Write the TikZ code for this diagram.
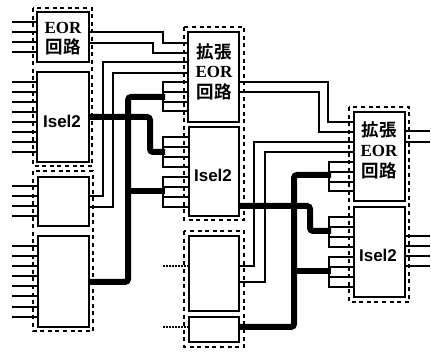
\documentclass[tikz,border=0pt]{standalone}
\usepackage{fontspec}
\setmainfont{Liberation Serif}
\newfontfamily\cjkf{Noto Sans CJK JP}[BoldFont={Noto Sans CJK JP Bold}]
\newfontfamily\sansf{Liberation Sans}
\begin{document}
\begin{tikzpicture}[x=1pt,y=-1pt,
  box/.style={draw=black,line width=2pt,fill=white,inner sep=0pt,outer sep=0pt},
  group/.style={draw=black,line width=1.8pt,dash pattern=on 4pt off 3.6pt},
  wire/.style={draw=black,line width=2.2pt},
  thick wire/.style={draw=black,line width=6pt,rounded corners=3pt},
  dotwire/.style={draw=black,line width=1.6pt,dash pattern=on 1.5pt off 1.5pt},
  cjklabel/.style={font=\cjkf\bfseries\fontsize{17.5}{19}\selectfont,inner sep=0pt},
  eorlabel/.style={font=\bfseries\fontsize{17}{19}\selectfont,inner sep=0pt},
  isellabel/.style={font=\sansf\bfseries\fontsize{17}{19}\selectfont,inner sep=0pt}]
\useasboundingbox[fill=white] (0,0) rectangle (431,352);

% boxes
\node[box,minimum width=52pt,minimum height=50pt] (eorA) at (63,37) {};
\node[box,minimum width=52pt,minimum height=90pt] (iselA) at (63,117) {};
\node[box,minimum width=51pt,minimum height=49pt] (plainA) at (63.5,201.5) {};
\node[box,minimum width=51pt,minimum height=91pt] (bigA) at (63.5,281.5) {};
\node[box,minimum width=51pt,minimum height=90pt] (eorB) at (213.5,77) {};
\node[box,minimum width=50pt,minimum height=89pt] (iselB) at (214,171.5) {};
\node[box,minimum width=50pt,minimum height=75pt] (plainB) at (214,273.5) {};
\node[box,minimum width=50pt,minimum height=25pt] (smallB) at (214,329.5) {};
\node[box,minimum width=51pt,minimum height=89pt] (eorC) at (379.5,156.5) {};
\node[box,minimum width=51pt,minimum height=90pt] (iselC) at (379.5,252) {};

% free ends and input stubs
\foreach \y in {22,32,42,52} \draw[wire] (12,\y) coordinate (e\y) -- (eorA.west |- e\y);
\foreach \y in {82,92,102,112,122,132,142,152} \draw[wire] (12,\y) coordinate (i\y) -- (iselA.west |- i\y);
\foreach \y in {186,196,206,216} \draw[wire] (12,\y) coordinate (p\y) -- (plainA.west |- p\y);
\foreach \y in {246,256,266,276,286,296,307,317} \draw[wire] (12,\y) coordinate (b\y) -- (bigA.west |- b\y);

% dotted inputs
\coordinate (dotA) at (163,266);
\coordinate (dotB) at (163,327);
\draw[dotwire] (dotA) -- (plainB.west |- dotA);
\draw[dotwire] (dotB) -- (smallB.west |- dotB);

% fan-in brackets of the middle column
\foreach \ya/\yb/\n in {82/111/1,137/167/2,177/207/3} {
  \coordinate (fa) at (163,\ya);
  \coordinate (fb) at (163,\yb);
  \draw[wire,line cap=rect] (fa) -- (fb);
}
\foreach \y in {82,92,102,111} \draw[wire] (163,\y) coordinate (f) -- (eorB.west |- f);
\foreach \y in {137,147,157,167,177,187,197,207} \draw[wire] (163,\y) coordinate (f) -- (iselB.west |- f);

% fan-in brackets of the right column
\foreach \ya/\yb in {162/191,217/247,257/287} {
  \coordinate (fa) at (329,\ya);
  \coordinate (fb) at (329,\yb);
  \draw[wire,line cap=rect] (fa) -- (fb);
}
\foreach \y in {162,172,182,191} \draw[wire] (329,\y) coordinate (f) -- (eorC.west |- f);
\foreach \y in {217,227,237,247,257,267,277,287} \draw[wire] (329,\y) coordinate (f) -- (iselC.west |- f);

% thin connectors
\draw[wire] (eorA.east |- 0,32) -- (163,32) -- (163,43) -- (eorB.west |- 0,43);
\draw[wire] (eorA.east |- 0,43) -- (153,43) -- (153,53) -- (eorB.west |- 0,53);
\draw[wire] (plainA.east |- 0,196) -- (103,196) -- (103,62) -- (eorB.west |- 0,62);
\draw[wire] (plainA.east |- 0,207) -- (113,207) -- (113,73) -- (eorB.west |- 0,73);
\draw[wire] (eorB.east |- 0,82) -- (328,82) -- (328,122) -- (eorC.west |- 0,122);
\draw[wire] (eorB.east |- 0,92) -- (319,92) -- (319,132) -- (eorC.west |- 0,132);
\draw[wire] (plainB.east |- 0,266) -- (254,266) -- (254,142) -- (eorC.west |- 0,142);
\draw[wire] (plainB.east |- 0,282) -- (265,282) -- (265,152) -- (eorC.west |- 0,152);

% output stubs
\foreach \y in {131,142} \draw[wire] (eorC.east |- 0,\y) -- (430,\y) coordinate (o\y);
\foreach \y in {236,246,256,266} \draw[wire] (iselC.east |- 0,\y) -- (430,\y) coordinate (o\y);

% thick connectors
\draw[thick wire] (iselA.east |- 0,117) -- (150,117) -- (150,152) -- (165,152);
\draw[thick wire] (bigA.east |- 0,282) -- (128,282) -- (128,97) -- (165,97);
\draw[thick wire] (128,191) -- (165,191);
\draw[thick wire] (iselB.east |- 0,206) -- (310,206) -- (310,231) -- (331,231);
\draw[thick wire] (smallB.east |- 0,327) -- (294,327) -- (294,175) -- (331,175);
\draw[thick wire] (294,271) -- (331,271);

% dashed groups
\draw[group] (33,8) rectangle (92,166);
\draw[group] (33,171) rectangle (93,331);
\draw[group] (184,27) rectangle (244,220);
\draw[group] (184,231) rectangle (244,347);
\draw[group] (349,107) rectangle (409,302);

% labels
\node[eorlabel] (tA1) at (63,28) {EOR};
\node[cjklabel] (tA2) at (63,47) {回路};
\node[isellabel] (tA3) at (62,121) {Isel2};
\node[cjklabel] (tB1) at (214,52) {拡張};
\node[eorlabel] (tB2) at (214,72) {EOR};
\node[cjklabel] (tB3) at (214,92) {回路};
\node[isellabel] (tB4) at (213,175) {Isel2};
\node[cjklabel] (tC1) at (379,130) {拡張};
\node[eorlabel] (tC2) at (379,151) {EOR};
\node[cjklabel] (tC3) at (379,171) {回路};
\node[isellabel] (tC4) at (378,255) {Isel2};
\end{tikzpicture}
\end{document}
